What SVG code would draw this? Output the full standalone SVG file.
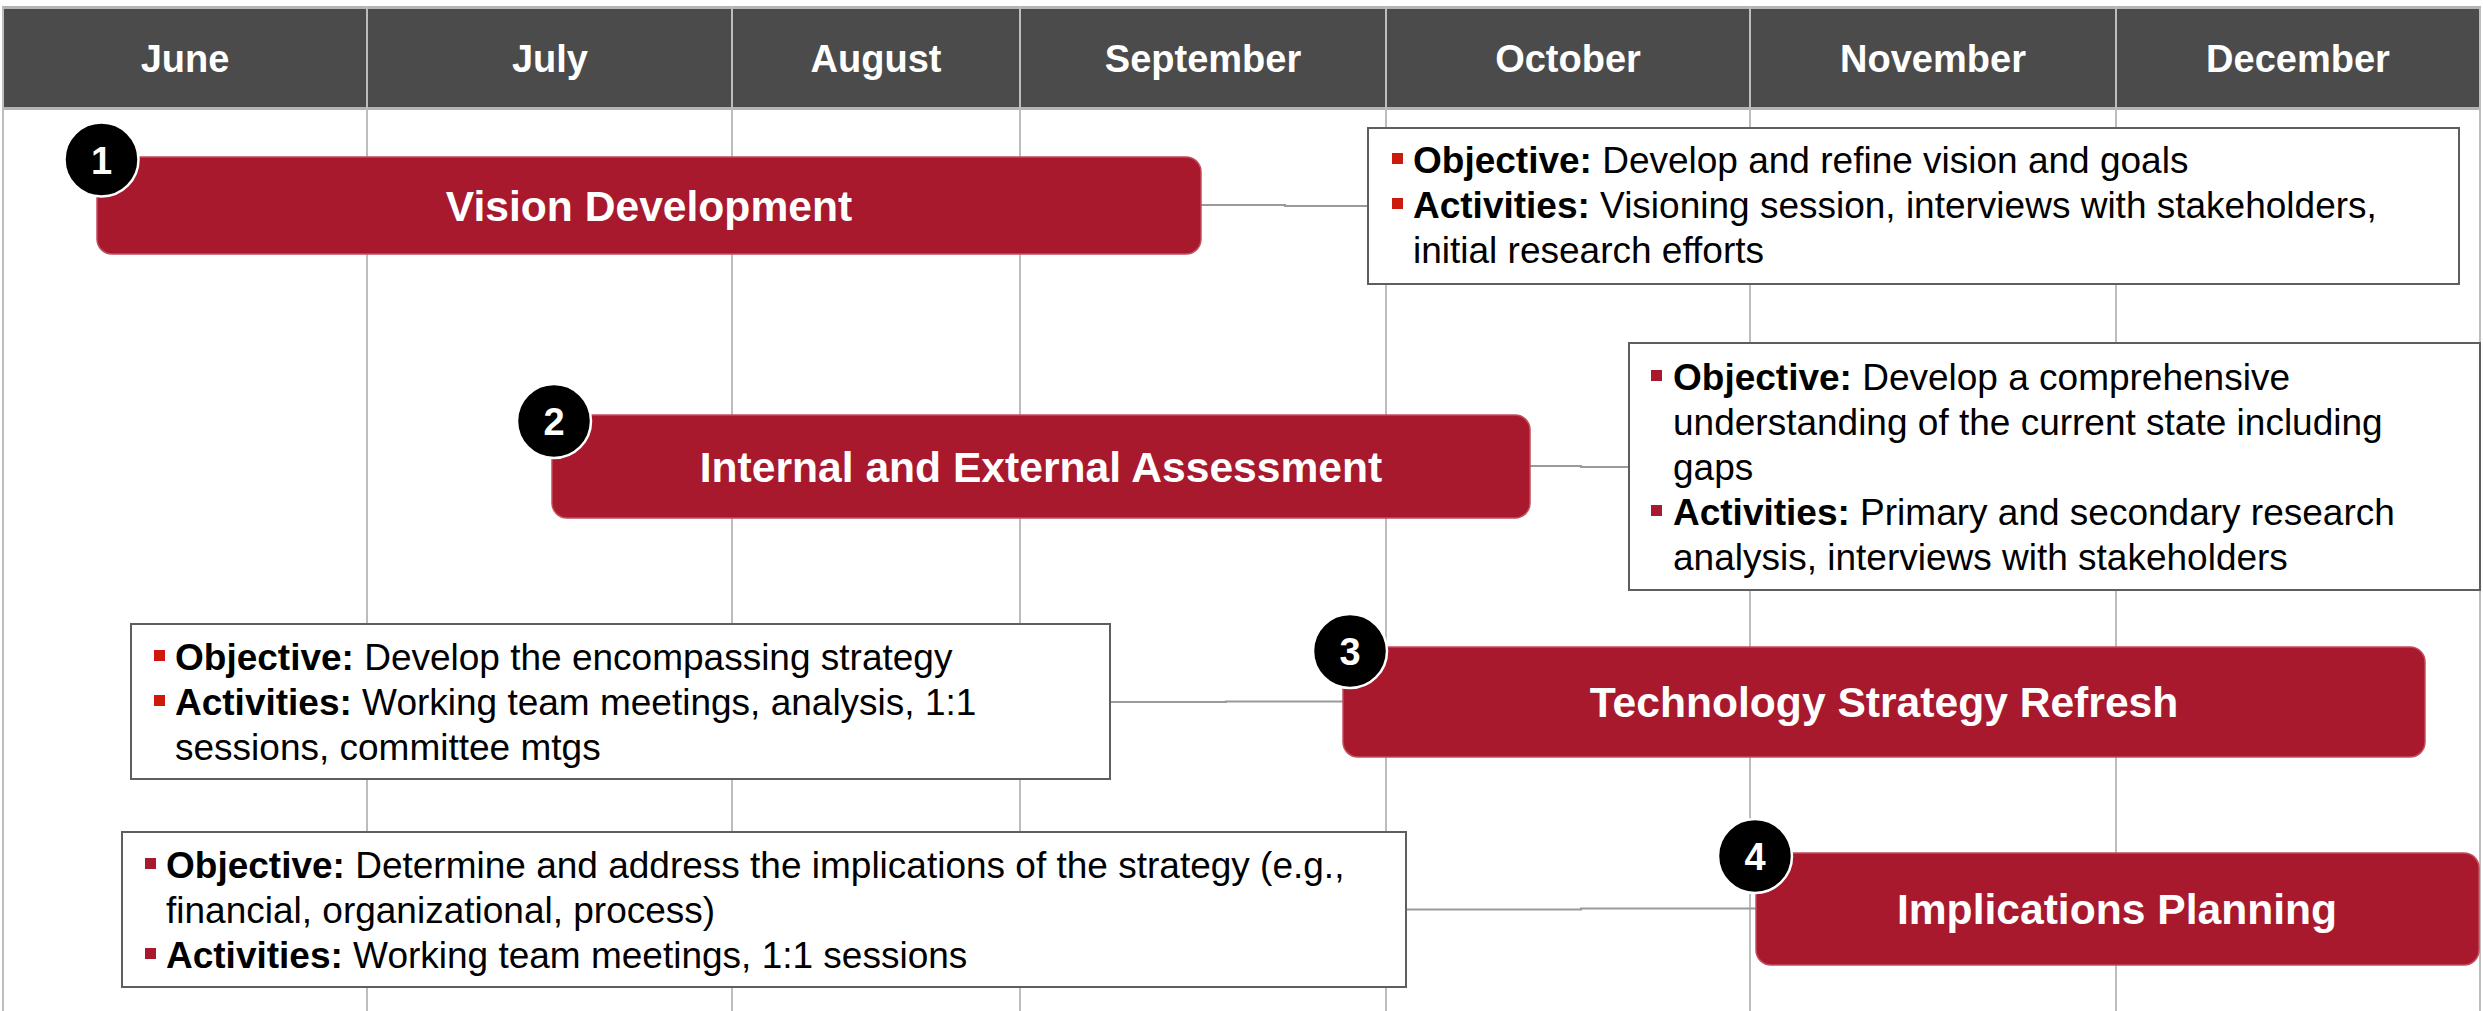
<svg xmlns="http://www.w3.org/2000/svg" width="2483" height="1011" viewBox="0 0 2483 1011">
<style>
.grid{stroke:#bdbdbd;stroke-width:2;fill:none}
.hdr{fill:#4b4b4b}
.hdrline{stroke:#b4b4b4;stroke-width:3;fill:none}
.month{font-family:"Liberation Sans",Arial,sans-serif;font-weight:bold;font-size:38px;fill:#ffffff;text-anchor:middle}
.bar{fill:#a8192e;stroke:#c24c5c;stroke-width:1.5}
.barlbl{font-family:"Liberation Sans",Arial,sans-serif;font-weight:bold;font-size:42.6px;fill:#ffffff;text-anchor:middle}
.badge{fill:#000000;stroke:#ffffff;stroke-width:2.5}
.num{font-family:"Liberation Sans",Arial,sans-serif;font-weight:bold;font-size:38px;fill:#ffffff;text-anchor:middle}
.box{fill:#ffffff;stroke:#5e5e5e;stroke-width:2}
.body{font-family:"Liberation Sans",Arial,sans-serif;font-size:37px;fill:#000000}
.b{font-weight:bold}
.bul1{fill:#cc1b0c}
.bul2{fill:#a8192e}
.conn{stroke:#9a9a9a;stroke-width:2;fill:none}
</style>
<rect width="2483" height="1011" fill="#ffffff"/>
<g id="timeline-grid">
<rect class="hdr" x="3" y="8" width="2477" height="100"/>
<line class="hdrline" x1="2" y1="7.5" x2="2481" y2="7.5"/>
<line class="hdrline" x1="2" y1="108.5" x2="2481" y2="108.5"/>
<line class="grid" x1="3" y1="7" x2="3" y2="1011"/>
<line class="grid" x1="367" y1="7" x2="367" y2="1011"/>
<line class="grid" x1="732" y1="7" x2="732" y2="1011"/>
<line class="grid" x1="1020" y1="7" x2="1020" y2="1011"/>
<line class="grid" x1="1386" y1="7" x2="1386" y2="1011"/>
<line class="grid" x1="1750" y1="7" x2="1750" y2="1011"/>
<line class="grid" x1="2116" y1="7" x2="2116" y2="1011"/>
<line class="grid" x1="2480" y1="7" x2="2480" y2="1011"/>
<text class="month" x="185" y="72">June</text>
<text class="month" x="550" y="72">July</text>
<text class="month" x="876" y="72">August</text>
<text class="month" x="1203" y="72">September</text>
<text class="month" x="1568" y="72">October</text>
<text class="month" x="1933" y="72">November</text>
<text class="month" x="2298" y="72">December</text>
</g>
<g id="connectors">
<path class="conn" d="M1201,205 H1285 V206 H1368"/>
<path class="conn" d="M1530,466 H1581 V467 H1629"/>
<path class="conn" d="M1110,702 H1226 V701.5 H1343"/>
<path class="conn" d="M1406,909.5 H1581 V908.5 H1756"/>
</g>
<g id="phase1">
<rect class="bar" x="97" y="157" width="1104" height="97" rx="15"/>
<text class="barlbl" x="649" y="221">Vision Development</text>
<circle class="badge" cx="101.5" cy="159.5" r="37"/>
<text class="num" x="101.5" y="173.5">1</text>
</g>
<g id="phase1-details">
<rect class="box" x="1368" y="128" width="1091" height="156"/>
<rect class="bul1" x="1392" y="153" width="11" height="11"/>
<text class="body" x="1413" y="173"><tspan class="b">Objective:</tspan> Develop and refine vision and goals</text>
<rect class="bul1" x="1392" y="198" width="11" height="11"/>
<text class="body" x="1413" y="218"><tspan class="b">Activities:</tspan> Visioning session, interviews with stakeholders,</text>
<text class="body" x="1413" y="263">initial research efforts</text>
</g>
<g id="phase2">
<rect class="bar" x="552" y="415" width="978" height="103" rx="15"/>
<text class="barlbl" x="1041" y="482">Internal and External Assessment</text>
<circle class="badge" cx="554" cy="421" r="37"/>
<text class="num" x="554" y="435">2</text>
</g>
<g id="phase2-details">
<rect class="box" x="1629" y="343" width="851" height="247"/>
<rect class="bul2" x="1651" y="370" width="11" height="11"/>
<text class="body" x="1673" y="390"><tspan class="b">Objective:</tspan> Develop a comprehensive</text>
<text class="body" x="1673" y="435">understanding of the current state including</text>
<text class="body" x="1673" y="480">gaps</text>
<rect class="bul2" x="1651" y="505" width="11" height="11"/>
<text class="body" x="1673" y="525"><tspan class="b">Activities:</tspan> Primary and secondary research</text>
<text class="body" x="1673" y="570">analysis, interviews with stakeholders</text>
</g>
<g id="phase3">
<rect class="bar" x="1343" y="647" width="1082" height="110" rx="15"/>
<text class="barlbl" x="1884" y="717">Technology Strategy Refresh</text>
<circle class="badge" cx="1350" cy="651" r="37"/>
<text class="num" x="1350" y="665">3</text>
</g>
<g id="phase3-details">
<rect class="box" x="131" y="624" width="979" height="155"/>
<rect class="bul1" x="154" y="650" width="11" height="11"/>
<text class="body" x="175" y="670"><tspan class="b">Objective:</tspan> Develop the encompassing strategy</text>
<rect class="bul1" x="154" y="695" width="11" height="11"/>
<text class="body" x="175" y="715"><tspan class="b">Activities:</tspan> Working team meetings, analysis, 1:1</text>
<text class="body" x="175" y="760">sessions, committee mtgs</text>
</g>
<g id="phase4">
<rect class="bar" x="1756" y="853" width="723" height="112" rx="15"/>
<text class="barlbl" x="2117" y="924">Implications Planning</text>
<circle class="badge" cx="1755" cy="856" r="37"/>
<text class="num" x="1755" y="870">4</text>
</g>
<g id="phase4-details">
<rect class="box" x="122" y="832" width="1284" height="155"/>
<rect class="bul2" x="145" y="858" width="11" height="11"/>
<text class="body" x="166" y="878"><tspan class="b">Objective:</tspan> Determine and address the implications of the strategy (e.g.,</text>
<text class="body" x="166" y="923">financial, organizational, process)</text>
<rect class="bul2" x="145" y="948" width="11" height="11"/>
<text class="body" x="166" y="968"><tspan class="b">Activities:</tspan> Working team meetings, 1:1 sessions</text>
</g>
</svg>
